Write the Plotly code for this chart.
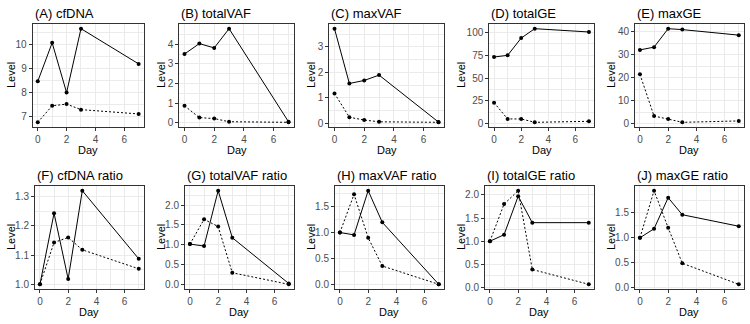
import plotly.graph_objects as go

# ---------------- data ----------------
days = [0, 1, 2, 3, 7]

titles = ["(A) cfDNA", "(B) totalVAF", "(C) maxVAF", "(D) totalGE", "(E) maxGE",
          "(F) cfDNA ratio", "(G) totalVAF ratio", "(H) maxVAF ratio",
          "(I) totalGE ratio", "(J) maxGE ratio"]

A_solid = [8.46, 10.07, 7.99, 10.66, 9.19]
A_dashed = [6.75, 7.44, 7.51, 7.28, 7.10]
B_solid = [3.50, 4.03, 3.81, 4.79, 0.05]
B_dashed = [0.86, 0.26, 0.21, 0.05, 0.02]
C_solid = [3.72, 1.56, 1.68, 1.89, 0.04]
C_dashed = [1.17, 0.23, 0.12, 0.05, 0.03]
D_solid = [73.0, 74.8, 93.7, 104.0, 100.4]
D_dashed = [23.0, 5.2, 5.2, 1.5, 2.6]
E_solid = [32.1, 33.3, 41.3, 40.9, 38.5]
E_dashed = [21.5, 3.4, 2.1, 0.7, 1.3]
F_solid = [1.0, 1.243, 1.018, 1.32, 1.087]
F_dashed = [1.0, 1.143, 1.16, 1.118, 1.053]
G_solid = [1.02, 0.97, 2.36, 1.18, 0.03]
G_dashed = [1.02, 1.64, 1.46, 0.30, 0.01]
H_solid = [1.0, 0.955, 1.80, 1.195, 0.01]
H_dashed = [1.0, 1.73, 0.90, 0.36, 0.01]
I_solid = [1.0, 1.14, 1.97, 1.40, 1.40]
I_dashed = [1.0, 1.80, 2.09, 0.39, 0.07]
J_solid = [1.0, 1.18, 1.80, 1.46, 1.23]
J_dashed = [1.0, 1.94, 1.20, 0.49, 0.07]

x_ticks = [0, 2, 4, 6]
x_ticklabels = ["0", "2", "4", "6"]

A_yticks = [7, 8, 9, 10]
B_yticks = [0, 1, 2, 3, 4]
C_yticks = [0, 1, 2, 3]
D_yticks = [0, 25, 50, 75, 100]
E_yticks = [0, 10, 20, 30, 40]
F_yticks = [1.0, 1.1, 1.2, 1.3]
G_yticks = [0.0, 0.5, 1.0, 1.5, 2.0]
H_yticks = [0.0, 0.5, 1.0, 1.5]
I_yticks = [0.0, 0.5, 1.0, 1.5, 2.0]
J_yticks = [0.0, 0.5, 1.0, 1.5]

A_ylabels = ["7", "8", "9", "10"]
B_ylabels = ["0", "1", "2", "3", "4"]
C_ylabels = ["0", "1", "2", "3"]
D_ylabels = ["0", "25", "50", "75", "100"]
E_ylabels = ["0", "10", "20", "30", "40"]
F_ylabels = ["1.0", "1.1", "1.2", "1.3"]
G_ylabels = ["0.0", "0.5", "1.0", "1.5", "2.0"]
H_ylabels = ["0.0", "0.5", "1.0", "1.5"]
I_ylabels = ["0.0", "0.5", "1.0", "1.5", "2.0"]
J_ylabels = ["0.0", "0.5", "1.0", "1.5"]

solids = [A_solid, B_solid, C_solid, D_solid, E_solid, F_solid, G_solid, H_solid, I_solid, J_solid]
dasheds = [A_dashed, B_dashed, C_dashed, D_dashed, E_dashed, F_dashed, G_dashed, H_dashed, I_dashed, J_dashed]
yticks = [A_yticks, B_yticks, C_yticks, D_yticks, E_yticks, F_yticks, G_yticks, H_yticks, I_yticks, J_yticks]
ylabels = [A_ylabels, B_ylabels, C_ylabels, D_ylabels, E_ylabels, F_ylabels, G_ylabels, H_ylabels, I_ylabels, J_ylabels]

# ---------------- layout geometry (pixels) ----------------
W, H = 750, 324
panel_left = [32.7, 179.3, 329.3, 489.3, 635, 35, 185, 335, 485, 635]
col_left = [0, 150, 300, 450, 600]
panel_right_off = 143.7
row_top = [24, 186]
row_bottom = [127, 289]

FONT = "Liberation Sans, Arial, sans-serif"
BORDER = "#333333"
GRID = "#EBEBEB"

fig = go.Figure()
annotations = []


def expand(lo, hi, f=0.05):
    s = hi - lo
    return [lo - f * s, hi + f * s]


def minor_vals(t, lo, hi):
    d = t[1] - t[0]
    ext = [t[0] - d] + list(t) + [t[-1] + d]
    m = [(ext[i] + ext[i + 1]) / 2 for i in range(len(ext) - 1)]
    return [v for v in m if lo <= v <= hi]


for i in range(10):
    r = i // 5
    c = i % 5
    k = "" if i == 0 else str(i + 1)
    xa = "x" + k
    ya = "y" + k
    x0 = panel_left[i] / W
    x1 = (col_left[c] + panel_right_off) / W
    y0 = 1 - row_bottom[r] / H
    y1 = 1 - row_top[r] / H

    allv = solids[i] + dasheds[i]
    yr = expand(min(allv), max(allv))
    xr = expand(min(days), max(days))

    fig.add_trace(go.Scatter(x=days, y=dasheds[i], xaxis=xa, yaxis=ya, mode="lines+markers",
                             line=dict(color="black", width=1, dash="2px,2px"),
                             marker=dict(color="black", size=4), showlegend=False))
    fig.add_trace(go.Scatter(x=days, y=solids[i], xaxis=xa, yaxis=ya, mode="lines+markers",
                             line=dict(color="black", width=1),
                             marker=dict(color="black", size=4), showlegend=False))

    common = dict(showline=True, mirror=True, linecolor=BORDER, linewidth=1,
                  ticks="outside", ticklen=3, tickcolor=BORDER, tickwidth=1,
                  showgrid=True, gridcolor=GRID, gridwidth=1, zeroline=False,
                  automargin=False,
                  tickfont=dict(family=FONT, size=10, color="#4D4D4D"))
    fig.layout[("xaxis" + k) if k else "xaxis"] = dict(
        domain=[x0, x1], anchor=ya, range=xr, tickmode="array",
        tickvals=x_ticks, ticktext=x_ticklabels,
        minor=dict(tickmode="array", tickvals=minor_vals(x_ticks, xr[0], xr[1]),
                   showgrid=True, gridcolor=GRID, gridwidth=0.5, ticklen=0),
        **common)
    fig.layout[("yaxis" + k) if k else "yaxis"] = dict(
        domain=[y0, y1], anchor=xa, range=yr, tickmode="array",
        tickvals=yticks[i], ticktext=ylabels[i],
        minor=dict(tickmode="array", tickvals=minor_vals(yticks[i], yr[0], yr[1]),
                   showgrid=True, gridcolor=GRID, gridwidth=0.5, ticklen=0),
        **common)

    # panel title
    annotations.append(dict(text=titles[i], xref="paper", yref="paper",
                            x=panel_left[i] / W, y=1 - (row_top[r] - 10.5) / H,
                            xanchor="left", yanchor="middle", showarrow=False,
                            font=dict(family=FONT, size=13, color="black")))
    # y title
    annotations.append(dict(text="Level", xref="paper", yref="paper",
                            x=(col_left[c] + 10.5) / W,
                            y=1 - (row_top[r] + row_bottom[r]) / 2 / H,
                            xanchor="center", yanchor="middle", textangle=-90,
                            showarrow=False, font=dict(family=FONT, size=11, color="black")))
    # x title
    annotations.append(dict(text="Day", xref="paper", yref="paper",
                            x=(x0 + x1) / 2, y=1 - (row_bottom[r] + 23) / H,
                            xanchor="center", yanchor="middle", showarrow=False,
                            font=dict(family=FONT, size=11, color="black")))

fig.update_layout(width=W, height=H, margin=dict(l=0, r=0, t=0, b=0),
                  paper_bgcolor="white", plot_bgcolor="white",
                  annotations=annotations, showlegend=False)

fig.write_html("out.html", config={"displayModeBar": False},
               post_script="document.body.style.margin='0';document.body.style.padding='0';")
